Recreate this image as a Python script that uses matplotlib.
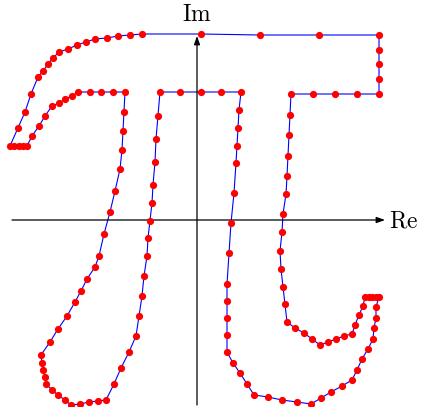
import matplotlib
matplotlib.use("Agg")
import matplotlib.pyplot as plt

plt.rcParams["mathtext.fontset"] = "cm"

# sample points of the pi contour (complex plane, arbitrary units), in traversal order
re = [-170, -174, -178, -183, -187, -179, -172, -166, -159, -154, -149, -144, -138, -129,
      -120, -111, -102, -90, -79, -67, -55, 4, 63, 122, 182, 182, 182, 182, 182, 160, 138,
      116, 94, 93, 92, 91, 90, 89, 86, 85, 83, 84, 86, 88, 90, 98, 107, 115, 123, 131, 139,
      147, 155, 158, 162, 166, 168, 172, 175, 179, 182, 179, 179, 177, 176, 171, 165, 160,
      155, 145, 134, 124, 114, 100, 85, 71, 57, 50, 43, 36, 30, 30, 30, 30, 30, 32, 34, 37,
      39, 40, 41, 42, 44, 24, 4, -17, -37, -39, -41, -42, -44, -45, -47, -49, -50, -53, -55,
      -58, -61, -68, -76, -83, -91, -99, -108, -117, -126, -132, -139, -145, -151, -152,
      -154, -155, -156, -147, -139, -130, -122, -116, -110, -102, -98, -93, -87, -82, -77,
      -75, -74, -73, -72, -84, -96, -107, -119, -125, -132, -138, -145, -152, -158, -165]
im = [74, 74, 74, 74, 74, 92, 108, 126, 143, 149, 156, 162, 168, 171, 175, 178, 181, 182,
      184, 185, 186, 186, 185, 185, 185, 170, 156, 141, 126, 126, 126, 126, 126, 105, 85,
      64, 44, 26, 6, -12, -31, -49, -67, -84, -102, -108, -113, -119, -125, -122, -119,
      -116, -114, -105, -95, -86, -77, -77, -77, -77, -77, -87, -98, -108, -119, -129, -139,
      -150, -160, -166, -172, -178, -184, -182, -180, -177, -175, -164, -153, -143, -132,
      -115, -98, -81, -64, -33, -3, 27, 57, 74, 92, 110, 128, 128, 128, 128, 128, 104, 81,
      58, 35, 17, -1, -18, -36, -56, -76, -96, -116, -132, -148, -164, -180, -181, -182,
      -184, -185, -180, -175, -170, -164, -157, -150, -143, -135, -122, -109, -96, -82,
      -71, -59, -47, -36, -14, 8, 29, 51, 70, 89, 108, 128, 128, 128, 128, 128, 124, 121,
      117, 114, 104, 94, 84]

fig = plt.figure(figsize=(4.24, 4.07), dpi=100)
ax = fig.add_axes([0, 0, 1, 1])
ax.set_xlim(-197, 227)
ax.set_ylim(-187, 220)
ax.axis("off")

# coordinate axes with arrow heads
arrow = dict(arrowstyle="-|>,head_length=0.5,head_width=0.18", color="black",
             lw=0.9, shrinkA=0, shrinkB=0)
ax.annotate("", xy=(188, 0), xytext=(-185, 0), arrowprops=arrow)
ax.annotate("", xy=(0, 184), xytext=(0, -185), arrowprops=arrow)
ax.text(207, 0, r"$\mathrm{Re}$", fontsize=17, ha="center", va="center")
ax.text(0, 206, r"$\mathrm{Im}$", fontsize=17, ha="center", va="center")

# closed contour through the samples, then the sample dots
ax.plot(re + re[:1], im + im[:1], color="blue", lw=0.8, zorder=2)
ax.plot(re, im, "o", color="red", ms=5.2, mec="none", zorder=3)

fig.savefig("out.png", dpi=100)
